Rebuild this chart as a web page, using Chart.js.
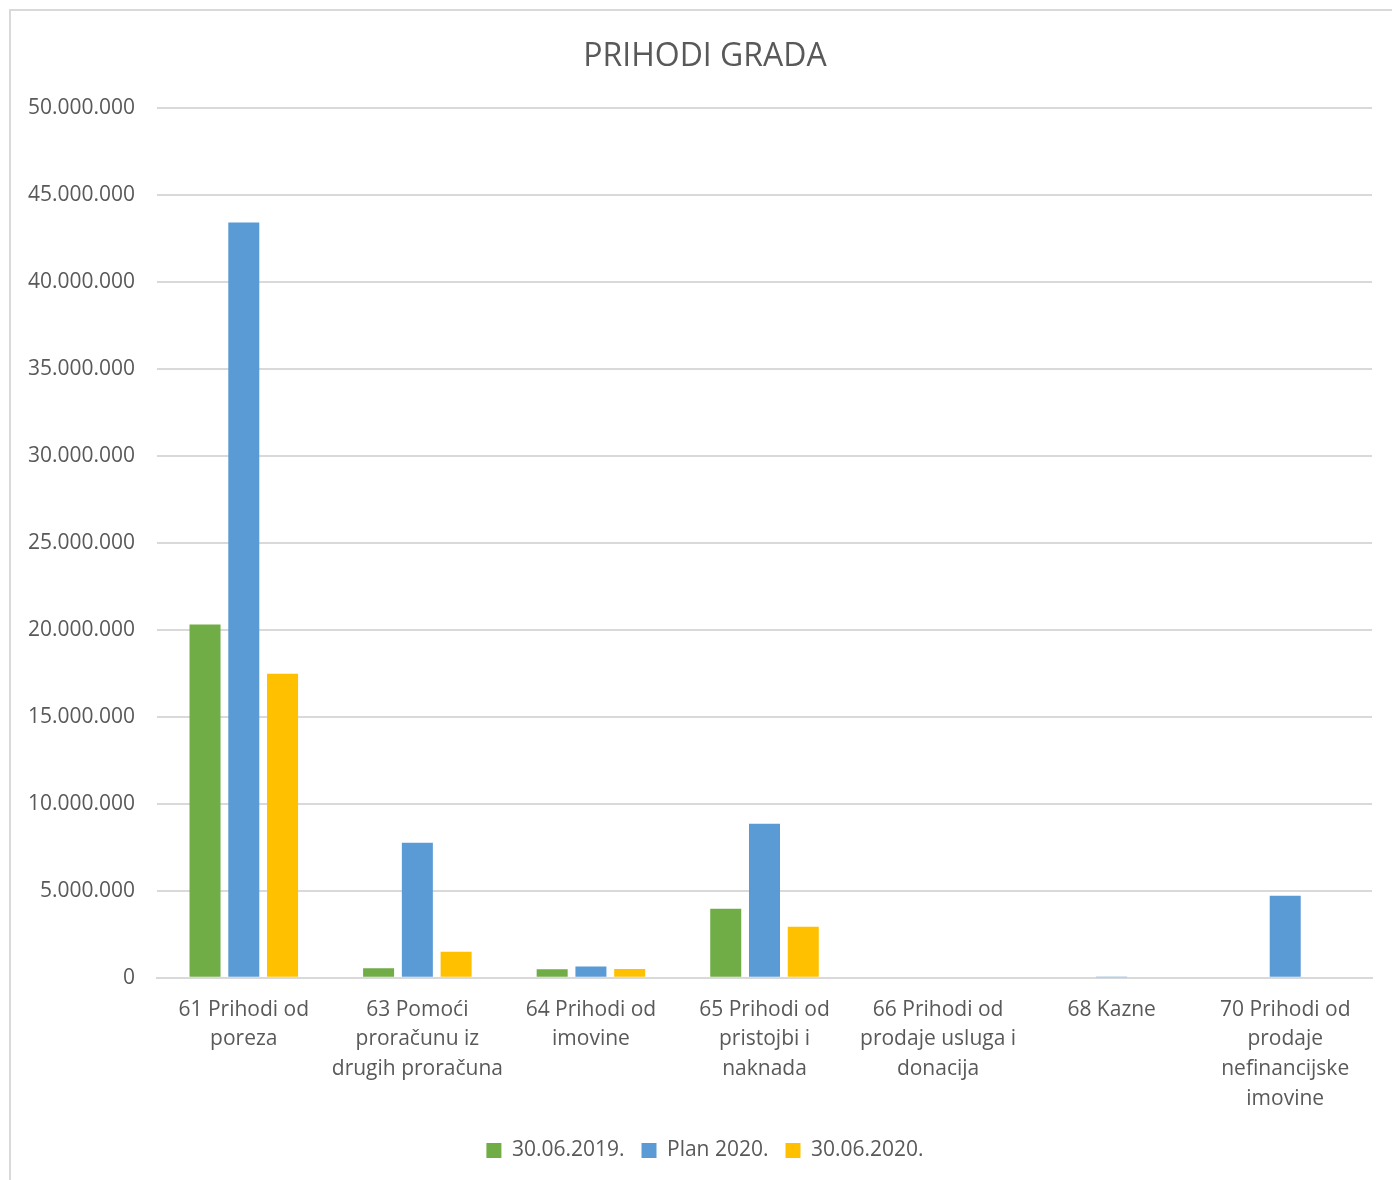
<!DOCTYPE html>
<html>
<head>
<meta charset="utf-8">
<script src="https://cdn.jsdelivr.net/npm/chart.js@4.4.1/dist/chart.umd.min.js"></script>
<style>
    html, body { margin: 0; padding: 0; background: #fff; }
    .okvir {
        position: absolute;
        left: 9px; top: 9px;
        width: 1400px; height: 1200px;
        border: 2px solid #d9d9d9;
        box-sizing: border-box;
    }
    .platno { position: absolute; left: 11px; top: 11px; width: 1381px; height: 1169px; }
</style>
</head>
<body>
<div class="okvir"></div>
<div class="platno"><canvas id="prihodiChart"></canvas></div>
<script>
// Kategorije (x os)
const kategorije = [
    ['61 Prihodi od', 'poreza'],
    ['63 Pomoći', 'proračunu iz', 'drugih proračuna'],
    ['64 Prihodi od', 'imovine'],
    ['65 Prihodi od', 'pristojbi i', 'naknada'],
    ['66 Prihodi od', 'prodaje usluga i', 'donacija'],
    ['68 Kazne'],
    ['70 Prihodi od', 'prodaje', 'nefinancijske', 'imovine']
];

// Vrijednosti po serijama (procjena iz slike)
const izvrsenje2019 = [20310000, 540000, 480000, 3970000, 0, 0, 60000];
const plan2020 = [43440000, 7770000, 650000, 8860000, 60000, 30000, 4720000];
const izvrsenje2020 = [17490000, 1500000, 500000, 2930000, 0, 0, 0];

const nazivSerija = ['30.06.2019.', 'Plan 2020.', '30.06.2020.'];
const boje = ['#70AD47', '#5B9BD5', '#FFC000'];

// Oznake y osi
const yMin = 0;
const yMax = 50000000;
const yKorak = 5000000;

function formatBroj(v) {
    return String(v).replace(/\B(?=(\d{3})+(?!\d))/g, '.');
}

const font = "'Open Sans', 'Noto Sans', sans-serif";
const siva = '#595959';

// oznake y osi ne smiju biti odrezane lijevim razmakom
const prosiriYOs = {
    id: 'prosiriYOs',
    afterLayout(chart) {
        chart.scales.y.left = 0;
    }
};

const ctx = document.getElementById('prihodiChart');
new Chart(ctx, {
    type: 'bar',
    data: {
        labels: kategorije,
        datasets: [
            { label: nazivSerija[0], data: izvrsenje2019, backgroundColor: boje[0] },
            { label: nazivSerija[1], data: plan2020, backgroundColor: boje[1] },
            { label: nazivSerija[2], data: izvrsenje2020, backgroundColor: boje[2] }
        ]
    },
    plugins: [prosiriYOs],
    options: {
        responsive: true,
        maintainAspectRatio: false,
        animation: false,
        datasets: {
            bar: { categoryPercentage: 0.67, barPercentage: 0.8 }
        },
        // lijevi razmak pomiče naslov i legendu prema sredini kao u originalu
        layout: { padding: { left: 27, right: 20, top: 0, bottom: 9 } },
        plugins: {
            title: {
                display: true,
                text: 'PRIHODI GRADA',
                color: siva,
                font: { size: 32, family: font, weight: 'normal' },
                padding: { top: 27, bottom: 32 }
            },
            legend: {
                position: 'bottom',
                labels: {
                    color: siva,
                    font: { size: 21, family: font },
                    boxWidth: 15,
                    boxHeight: 15,
                    padding: 17
                }
            },
            tooltip: { enabled: false }
        },
        scales: {
            x: {
                grid: { display: false },
                border: { display: true, color: '#d9d9d9', width: 2 },
                ticks: {
                    color: siva,
                    font: { size: 21, family: font, lineHeight: 1.42 },
                    maxRotation: 0,
                    autoSkip: false,
                    padding: 9
                }
            },
            y: {
                min: yMin,
                max: yMax,
                grid: { color: '#d9d9d9', lineWidth: 2, drawTicks: false },
                border: { display: false },
                ticks: {
                    stepSize: yKorak,
                    color: siva,
                    font: { size: 21, family: font },
                    padding: 22,
                    callback: v => formatBroj(v)
                },
                afterFit: function (scale) { scale.width = 119; }
            }
        }
    }
});
</script>
</body>
</html>
